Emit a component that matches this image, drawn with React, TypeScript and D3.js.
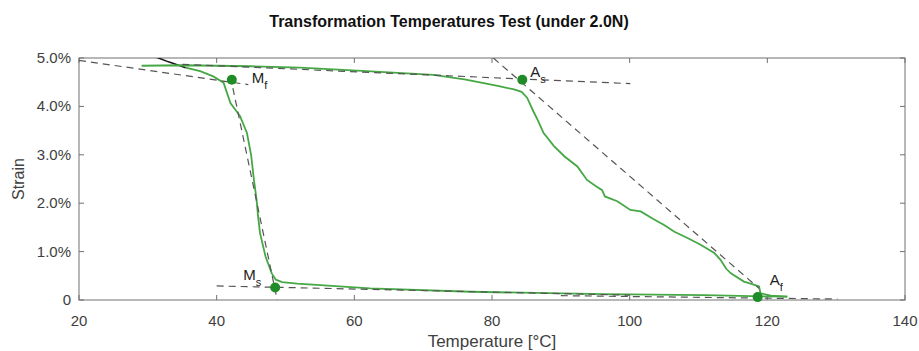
import React from 'react';
import * as d3 from 'd3';

// heating branch (upper plateau then drop), temperature in °C, strain in %
const heatTemp = [29.1, 35, 44.9, 52.1, 61.8, 71.5, 76, 78.8, 81, 83.2, 84.3, 85.1, 86.0, 86.6, 87.5, 89.0, 90.5, 92.4, 93.8, 95.0, 96.0, 96.4, 98.2, 100.1, 101.6, 103.5, 105.0, 106.5, 108.4, 110.3, 112.3, 113.2, 114.0, 114.7, 116.6, 117.8, 118.8, 119.0, 120.5, 122.9];
const heatStrain = [4.84, 4.85, 4.83, 4.80, 4.73, 4.65, 4.56, 4.48, 4.42, 4.35, 4.30, 4.18, 3.90, 3.73, 3.45, 3.18, 2.97, 2.76, 2.48, 2.36, 2.27, 2.14, 2.04, 1.86, 1.83, 1.67, 1.55, 1.41, 1.28, 1.14, 0.97, 0.83, 0.65, 0.55, 0.38, 0.33, 0.28, 0.14, 0.09, 0.07];

// cooling branch (lower plateau then rise)
const coolTemp = [122.9, 117.6, 110.8, 96.2, 76.9, 62.3, 51.7, 49.5, 48.6, 48.0, 47.1, 46.3, 46.0, 45.8, 45.4, 45.0, 44.4, 43.4, 42.0, 41.0, 39.5, 37.6, 35.5];
const coolStrain = [0.07, 0.08, 0.10, 0.12, 0.17, 0.24, 0.34, 0.37, 0.42, 0.55, 0.90, 1.38, 1.75, 2.07, 2.50, 3.00, 3.45, 3.80, 4.07, 4.49, 4.62, 4.73, 4.80];

// end of cooling run drawn dark
const tailTemp = [35.5, 33.0, 30.8];
const tailStrain = [4.80, 4.92, 5.04];

// tangent construction lines [t1, s1, t2, s2]
const tangentNames = ['MfLow', 'MfSteep', 'MsLow', 'AfLow', 'AsHigh', 'AsSteep'];
const tangentT1 = [20, 42.0, 40, 90, 35, 80.2];
const tangentS1 = [4.95, 4.62, 0.29, 0.09, 4.87, 5.0];
const tangentT2 = [44.6, 48.8, 100, 130.2, 100.1, 118.8];
const tangentS2 = [4.45, 0.0, 0.10, 0.02, 4.47, 0.24];

// transformation points
const pointMain = ['M', 'M', 'A', 'A'];
const pointSub = ['f', 's', 's', 'f'];
const pointTemp = [42.2, 48.5, 84.4, 118.6];
const pointStrain = [4.55, 0.26, 4.55, 0.06];
const labelDx = [20, -32, 8, 12];
const labelDy = [3, -7, -3, -12];

const xTicks = [20, 40, 60, 80, 100, 120, 140];
const yTicks = [0, 1, 2, 3, 4, 5];

const green = '#45a845';
const markerGreen = '#1f8c27';
const axisColor = '#707070';
const textColor = '#404040';
const font = '"Liberation Sans", Arial, sans-serif';

export default function App() {
  const margin = { top: 58, right: 14, bottom: 51, left: 79 };
  const W = 919, H = 351;
  const x = d3.scaleLinear().domain([20, 140]).range([margin.left, W - margin.right]);
  const y = d3.scaleLinear().domain([0, 5]).range([H - margin.bottom, margin.top]);
  const line = d3.line<[number, number]>().x((d) => x(d[0])).y((d) => y(d[1]));
  const zip = (a: number[], b: number[]) => a.map((v, i) => [v, b[i]] as [number, number]);

  const x0 = x(20), x1 = x(140), y0 = y(0), y1 = y(5);
  const tick = 5;

  return (
    <svg width={W} height={H} style={{ position: 'absolute', left: 0, top: 0, fontFamily: font }}>
      <defs>
        <clipPath id="plot">
          <rect x={x0} y={y1} width={x1 - x0} height={y0 - y1} />
        </clipPath>
      </defs>
      <rect width={W} height={H} fill="white" />

      <text x={449} y={27} textAnchor="middle" fontSize={16} fontWeight="bold" fill="#111">
        Transformation Temperatures Test (under 2.0N)
      </text>

      {/* axes box */}
      <rect x={x0} y={y1} width={x1 - x0} height={y0 - y1} fill="none" stroke={axisColor} strokeWidth={1} />
      {xTicks.map((t) => (
        <g key={'x' + t}>
          <line x1={x(t)} x2={x(t)} y1={y0} y2={y0 - tick} stroke={axisColor} />
          <line x1={x(t)} x2={x(t)} y1={y1} y2={y1 + tick} stroke={axisColor} />
          <text x={x(t)} y={y0 + 26} textAnchor="middle" fontSize={15} fill={textColor}>{t}</text>
        </g>
      ))}
      {yTicks.map((t) => (
        <g key={'y' + t}>
          <line x1={x0} x2={x0 + tick} y1={y(t)} y2={y(t)} stroke={axisColor} />
          <line x1={x1} x2={x1 - tick} y1={y(t)} y2={y(t)} stroke={axisColor} />
          <text x={x0 - 8} y={y(t) + 5} textAnchor="end" fontSize={15} fill={textColor}>
            {t === 0 ? '0' : t.toFixed(1) + '%'}
          </text>
        </g>
      ))}
      <text x={(x0 + x1) / 2} y={347} textAnchor="middle" fontSize={17} fill={textColor}>Temperature [°C]</text>
      <text transform={`translate(24, ${(y0 + y1) / 2}) rotate(-90)`} textAnchor="middle" fontSize={16} fill={textColor}>Strain</text>

      <g clipPath="url(#plot)">
        {/* data curves */}
        <path d={line(zip(tailTemp, tailStrain)) ?? ''} fill="none" stroke="#1a1a1a" strokeWidth={1.6} />
        <path d={line(zip(heatTemp, heatStrain)) ?? ''} fill="none" stroke={green} strokeWidth={1.8} />
        <path d={line(zip(coolTemp, coolStrain)) ?? ''} fill="none" stroke={green} strokeWidth={1.8} />

        {/* tangent lines */}
        {tangentNames.map((n, i) => (
          <line
            key={n}
            x1={x(tangentT1[i])}
            y1={y(tangentS1[i])}
            x2={x(tangentT2[i])}
            y2={y(tangentS2[i])}
            stroke="#555"
            strokeWidth={1.2}
            strokeDasharray="7,5"
          />
        ))}
      </g>

      {/* transformation points */}
      {pointTemp.map((t, i) => (
        <g key={'p' + i}>
          <circle cx={x(t)} cy={y(pointStrain[i])} r={5} fill={markerGreen} />
          <text
            x={x(t) + labelDx[i]}
            y={y(pointStrain[i]) + labelDy[i]}
            fontSize={15}
            fill="#222"
          >
            {pointMain[i]}
            <tspan fontSize={11} dy={6}>{pointSub[i]}</tspan>
          </text>
        </g>
      ))}
    </svg>
  );
}
